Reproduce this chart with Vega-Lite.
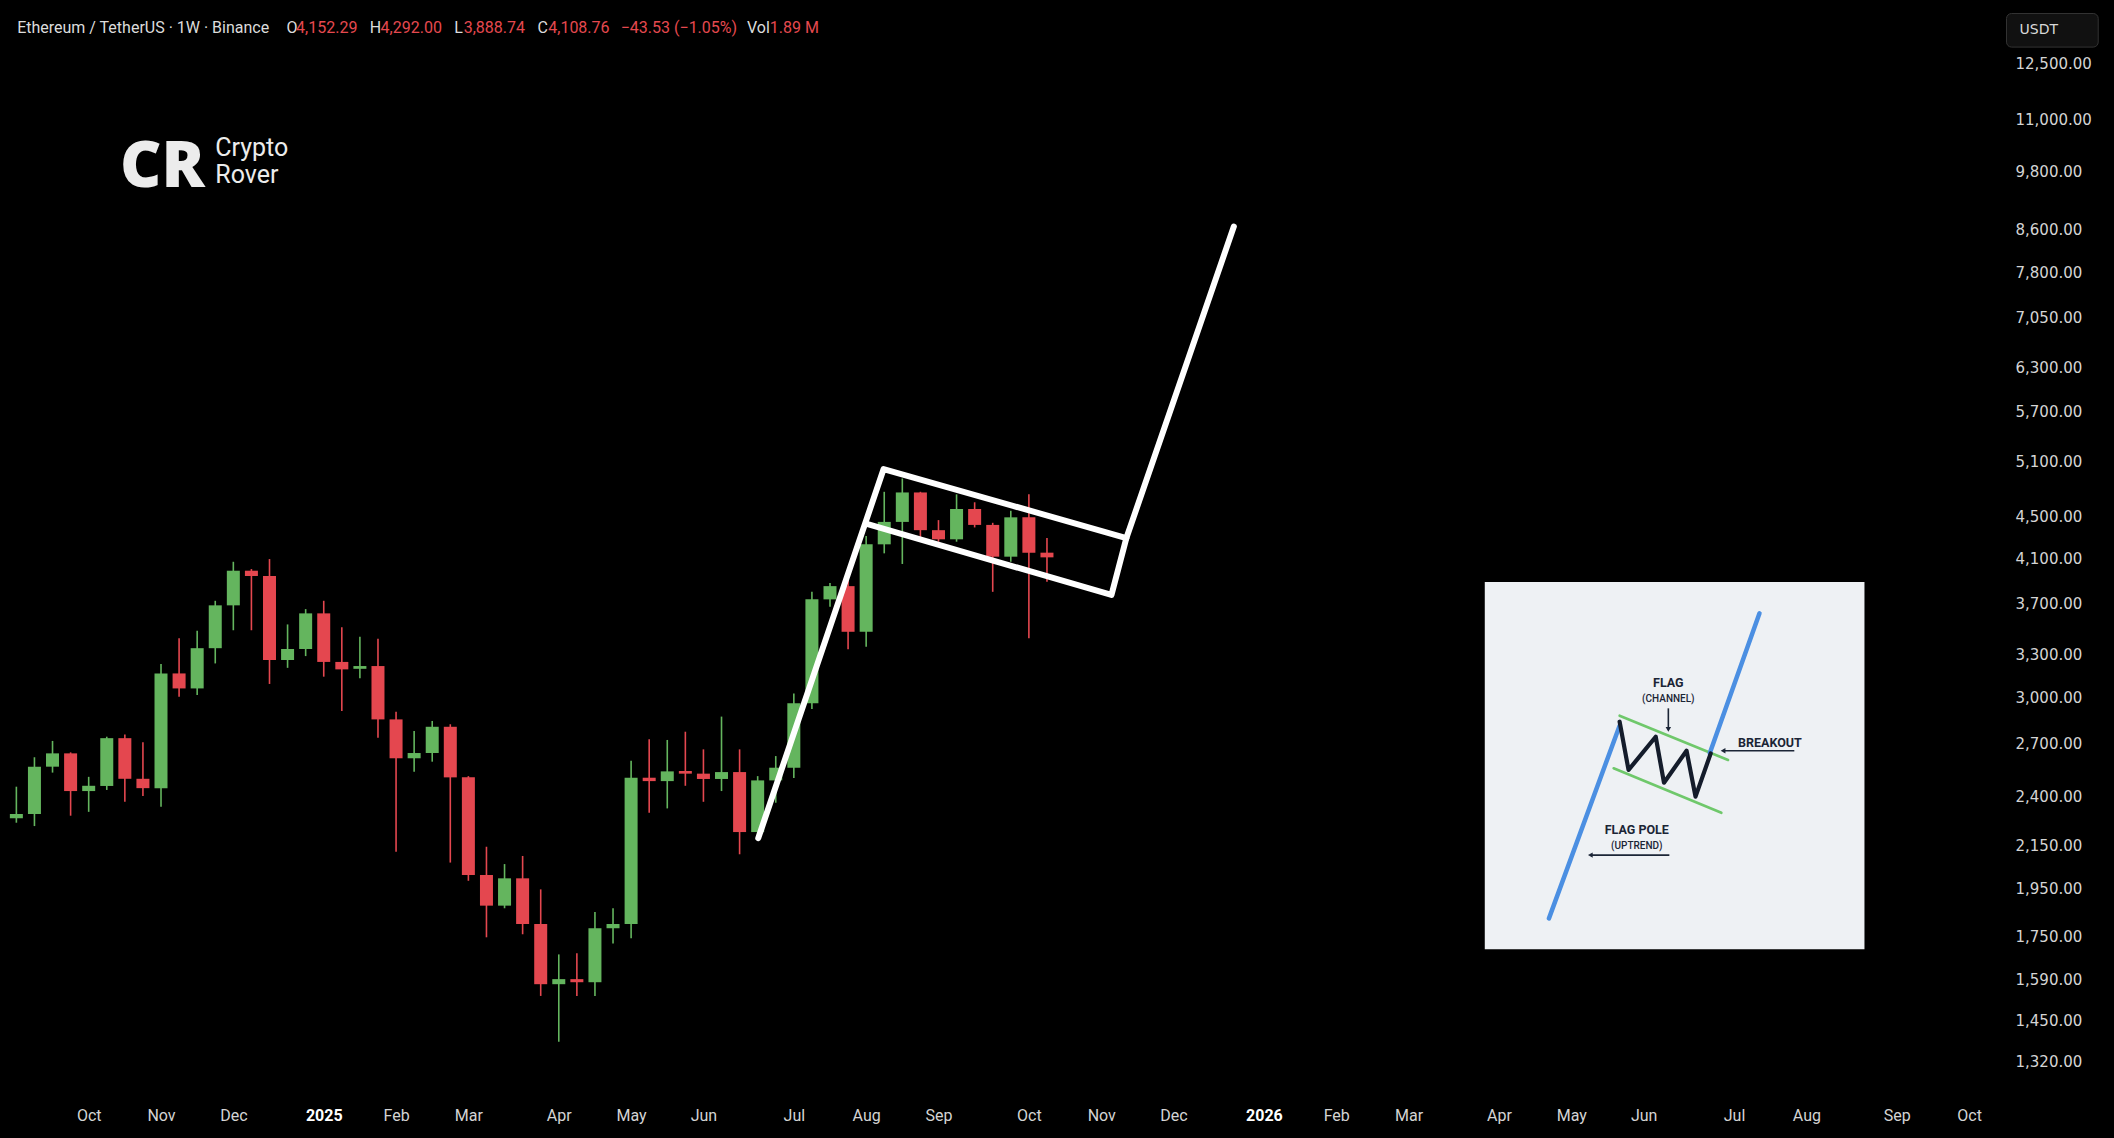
{
  "$schema": "https://vega.github.io/schema/vega-lite/v6.json",
  "width": 1995,
  "height": 1095,
  "autosize": {"type": "none"},
  "padding": {"left": 0, "top": 0, "right": 119, "bottom": 43},
  "background": "#000000",
  "config": {"view": {"stroke": null}, "font": "Roboto", "axis": {"title": null, "grid": false, "ticks": false, "domain": false}},
  "datasets": {
    "candles": [
      {"date": "2024-09-09", "o": 2284, "h": 2452, "l": 2261, "c": 2306},
      {"date": "2024-09-16", "o": 2306, "h": 2620, "l": 2244, "c": 2565},
      {"date": "2024-09-23", "o": 2565, "h": 2718, "l": 2531, "c": 2643},
      {"date": "2024-09-30", "o": 2643, "h": 2649, "l": 2297, "c": 2428},
      {"date": "2024-10-07", "o": 2428, "h": 2507, "l": 2317, "c": 2457},
      {"date": "2024-10-14", "o": 2456, "h": 2744, "l": 2434, "c": 2735},
      {"date": "2024-10-21", "o": 2735, "h": 2757, "l": 2370, "c": 2496},
      {"date": "2024-10-28", "o": 2496, "h": 2710, "l": 2401, "c": 2444},
      {"date": "2024-11-04", "o": 2444, "h": 3231, "l": 2344, "c": 3164},
      {"date": "2024-11-11", "o": 3164, "h": 3424, "l": 3002, "c": 3059},
      {"date": "2024-11-18", "o": 3059, "h": 3483, "l": 3014, "c": 3349},
      {"date": "2024-11-25", "o": 3349, "h": 3726, "l": 3236, "c": 3688},
      {"date": "2024-12-02", "o": 3688, "h": 4068, "l": 3487, "c": 3987},
      {"date": "2024-12-09", "o": 3987, "h": 4002, "l": 3487, "c": 3940},
      {"date": "2024-12-16", "o": 3940, "h": 4093, "l": 3090, "c": 3261},
      {"date": "2024-12-23", "o": 3261, "h": 3533, "l": 3204, "c": 3343},
      {"date": "2024-12-30", "o": 3343, "h": 3657, "l": 3290, "c": 3622},
      {"date": "2025-01-06", "o": 3622, "h": 3726, "l": 3141, "c": 3247},
      {"date": "2025-01-13", "o": 3247, "h": 3510, "l": 2907, "c": 3193},
      {"date": "2025-01-20", "o": 3197, "h": 3437, "l": 3129, "c": 3217},
      {"date": "2025-01-27", "o": 3217, "h": 3420, "l": 2737, "c": 2853},
      {"date": "2025-02-03", "o": 2853, "h": 2903, "l": 2118, "c": 2614},
      {"date": "2025-02-10", "o": 2614, "h": 2780, "l": 2536, "c": 2645},
      {"date": "2025-02-17", "o": 2645, "h": 2843, "l": 2594, "c": 2806},
      {"date": "2025-02-24", "o": 2806, "h": 2822, "l": 2067, "c": 2504},
      {"date": "2025-03-03", "o": 2504, "h": 2511, "l": 1984, "c": 2010},
      {"date": "2025-03-10", "o": 2010, "h": 2142, "l": 1747, "c": 1876},
      {"date": "2025-03-17", "o": 1876, "h": 2060, "l": 1865, "c": 1995},
      {"date": "2025-03-24", "o": 1995, "h": 2098, "l": 1759, "c": 1800},
      {"date": "2025-03-31", "o": 1800, "h": 1946, "l": 1531, "c": 1572},
      {"date": "2025-04-07", "o": 1572, "h": 1681, "l": 1381, "c": 1590},
      {"date": "2025-04-14", "o": 1590, "h": 1685, "l": 1531, "c": 1579},
      {"date": "2025-04-21", "o": 1579, "h": 1849, "l": 1531, "c": 1783},
      {"date": "2025-04-28", "o": 1783, "h": 1865, "l": 1723, "c": 1800},
      {"date": "2025-05-05", "o": 1800, "h": 2600, "l": 1743, "c": 2502},
      {"date": "2025-05-12", "o": 2502, "h": 2729, "l": 2312, "c": 2483},
      {"date": "2025-05-19", "o": 2483, "h": 2724, "l": 2335, "c": 2538},
      {"date": "2025-05-26", "o": 2540, "h": 2775, "l": 2457, "c": 2525},
      {"date": "2025-06-02", "o": 2525, "h": 2667, "l": 2370, "c": 2495},
      {"date": "2025-06-09", "o": 2495, "h": 2871, "l": 2428, "c": 2534},
      {"date": "2025-06-16", "o": 2534, "h": 2667, "l": 2106, "c": 2214},
      {"date": "2025-06-23", "o": 2214, "h": 2511, "l": 2191, "c": 2487},
      {"date": "2025-06-30", "o": 2487, "h": 2627, "l": 2365, "c": 2559},
      {"date": "2025-07-07", "o": 2559, "h": 3025, "l": 2500, "c": 2958},
      {"date": "2025-07-14", "o": 2958, "h": 3802, "l": 2920, "c": 3738},
      {"date": "2025-07-21", "o": 3738, "h": 3878, "l": 3676, "c": 3851},
      {"date": "2025-07-28", "o": 3851, "h": 3900, "l": 3341, "c": 3475},
      {"date": "2025-08-04", "o": 3475, "h": 4311, "l": 3360, "c": 4231},
      {"date": "2025-08-11", "o": 4231, "h": 4762, "l": 4146, "c": 4450},
      {"date": "2025-08-18", "o": 4450, "h": 4907, "l": 4048, "c": 4755},
      {"date": "2025-08-25", "o": 4755, "h": 4762, "l": 4299, "c": 4368},
      {"date": "2025-09-01", "o": 4368, "h": 4468, "l": 4256, "c": 4279},
      {"date": "2025-09-08", "o": 4279, "h": 4735, "l": 4256, "c": 4581},
      {"date": "2025-09-15", "o": 4581, "h": 4651, "l": 4395, "c": 4420},
      {"date": "2025-09-22", "o": 4420, "h": 4441, "l": 3802, "c": 4115},
      {"date": "2025-09-29", "o": 4115, "h": 4564, "l": 4068, "c": 4496},
      {"date": "2025-10-06", "o": 4496, "h": 4735, "l": 3424, "c": 4152.29},
      {"date": "2025-10-13", "o": 4152.29, "h": 4292, "l": 3888.74, "c": 4108.76}
    ],
    "pattern": [
      {"seg": "pole", "i": 0, "date": "2025-06-23T05:17:00Z", "p": 2184},
      {"seg": "pole", "i": 1, "date": "2025-08-10T18:14:00Z", "p": 5012},
      {"seg": "pole", "i": 2, "date": "2025-11-12T18:00:00Z", "p": 4291},
      {"seg": "lower", "i": 0, "date": "2025-08-04T14:24:00Z", "p": 4429},
      {"seg": "lower", "i": 1, "date": "2025-11-06T23:17:00Z", "p": 3775},
      {"seg": "lower", "i": 2, "date": "2025-11-12T18:00:00Z", "p": 4291},
      {"seg": "lower", "i": 3, "date": "2025-12-24T08:24:00Z", "p": 8651}
    ],
    "inset_lines": [
      {"g": "blue", "seg": "pole", "i": 0, "date": "2026-04-25T08:24:00Z", "p": 1823},
      {"g": "blue", "seg": "pole", "i": 1, "date": "2026-05-22T16:48:00Z", "p": 2813},
      {"g": "blue", "seg": "break", "i": 0, "date": "2026-06-26T14:24:00Z", "p": 2643},
      {"g": "blue", "seg": "break", "i": 1, "date": "2026-07-15T20:38:00Z", "p": 3622},
      {"g": "green", "seg": "up", "i": 0, "date": "2026-05-22T16:48:00Z", "p": 2877},
      {"g": "green", "seg": "up", "i": 1, "date": "2026-07-03T16:34:00Z", "p": 2604},
      {"g": "green", "seg": "low", "i": 0, "date": "2026-05-20T09:22:00Z", "p": 2556},
      {"g": "green", "seg": "low", "i": 1, "date": "2026-07-01T02:24:00Z", "p": 2312},
      {"g": "zig", "seg": "zig", "i": 0, "date": "2026-05-22T16:48:00Z", "p": 2838},
      {"g": "zig", "seg": "zig", "i": 1, "date": "2026-05-26T03:50:00Z", "p": 2546},
      {"g": "zig", "seg": "zig", "i": 2, "date": "2026-06-05T16:19:00Z", "p": 2744},
      {"g": "zig", "seg": "zig", "i": 3, "date": "2026-06-08T21:07:00Z", "p": 2474},
      {"g": "zig", "seg": "zig", "i": 4, "date": "2026-06-17T14:53:00Z", "p": 2659},
      {"g": "zig", "seg": "zig", "i": 5, "date": "2026-06-21T02:10:00Z", "p": 2398},
      {"g": "zig", "seg": "zig", "i": 6, "date": "2026-06-26T23:31:00Z", "p": 2643},
      {"g": "arrow", "seg": "a1", "i": 0, "date": "2026-06-10T13:41:00Z", "p": 2925},
      {"g": "arrow", "seg": "a1", "i": 1, "date": "2026-06-10T13:41:00Z", "p": 2797},
      {"g": "arrow", "seg": "a2", "i": 0, "date": "2026-07-29T08:10:00Z", "p": 2659},
      {"g": "arrow", "seg": "a2", "i": 1, "date": "2026-07-01T18:14:00Z", "p": 2659},
      {"g": "arrow", "seg": "a3", "i": 0, "date": "2026-06-10T23:02:00Z", "p": 2102},
      {"g": "arrow", "seg": "a3", "i": 1, "date": "2026-05-11T08:53:00Z", "p": 2102}
    ],
    "heads": [
      {"dir": "down", "date": "2026-06-10T13:41:00Z", "p": 2790},
      {"dir": "left", "date": "2026-07-01T18:14:00Z", "p": 2659},
      {"dir": "left", "date": "2026-05-11T08:53:00Z", "p": 2102}
    ],
    "inset_text": [
      {"t": "FLAG", "kind": "title", "date": "2026-06-10T13:41:00Z", "p": 3094},
      {"t": "(CHANNEL)", "kind": "sub", "date": "2026-06-10T13:41:00Z", "p": 2985},
      {"t": "BREAKOUT", "kind": "title", "date": "2026-07-19T21:36:00Z", "p": 2707},
      {"t": "FLAG POLE", "kind": "title", "date": "2026-05-29T08:38:00Z", "p": 2224},
      {"t": "(UPTREND)", "kind": "sub", "date": "2026-05-29T08:38:00Z", "p": 2145}
    ],
    "header": [
      {"t": "Ethereum / TetherUS · 1W · Binance", "role": "label", "date": "2024-09-09T07:12:00Z", "p": 13523},
      {"t": "O", "role": "label", "date": "2024-12-22T14:40:00Z", "p": 13523},
      {"t": "4,152.29", "role": "value", "date": "2024-12-26T07:26:00Z", "p": 13523},
      {"t": "H", "role": "label", "date": "2025-01-23T20:38:00Z", "p": 13523},
      {"t": "4,292.00", "role": "value", "date": "2025-01-28T00:29:00Z", "p": 13523},
      {"t": "L", "role": "label", "date": "2025-02-25T13:26:00Z", "p": 13523},
      {"t": "3,888.74", "role": "value", "date": "2025-03-01T04:19:00Z", "p": 13523},
      {"t": "C", "role": "label", "date": "2025-03-29T18:14:00Z", "p": 13523},
      {"t": "4,108.76", "role": "value", "date": "2025-04-02T22:05:00Z", "p": 13523},
      {"t": "−43.53 (−1.05%)", "role": "value", "date": "2025-04-30T23:17:00Z", "p": 13523},
      {"t": "Vol", "role": "label", "date": "2025-06-18T20:24:00Z", "p": 13523},
      {"t": "1.89 M", "role": "value", "date": "2025-06-27T16:05:00Z", "p": 13523}
    ],
    "logo": [
      {"t": "Crypto", "date": "2024-11-25T00:00:00Z", "p": 10323},
      {"t": "Rover", "date": "2024-11-25T00:00:00Z", "p": 9714}
    ],
    "icon": [{"t": "CR", "date": "2024-11-04T14:00:00Z", "p": 9456}],
    "inset_box": [{"d1": "2026-03-31T12:00:00Z", "d2": "2026-08-25T12:00:00Z", "p1": 1701, "p2": 3887}],
    "unit_box": [{"t": "USDT", "d1": "2026-10-19T12:00:00Z", "d2": "2026-11-24T00:00:00Z", "dm": "2026-11-01T00:00:00Z", "p1": 12957, "p2": 13975, "pm": 13464}]
  },
  "layer": [
    {
      "data": {"name": "candles"},
      "mark": {"type": "rule", "strokeWidth": 1.6},
      "encoding": {
        "x": {"field": "date", "type": "temporal",
          "scale": {"type": "utc", "domain": [{"year": 2024, "month": 9, "date": 4, "hours": 14, "minutes": 24, "utc": true}, {"year": 2026, "month": 10, "date": 13, "hours": 2, "minutes": 24, "utc": true}]},
          "axis": {
            "title": null, "domain": false, "ticks": false, "grid": false,
            "values": [
              {"year": 2024, "month": 10, "date": 7, "utc": true},
              {"year": 2024, "month": 11, "date": 4, "utc": true},
              {"year": 2024, "month": 12, "date": 2, "utc": true},
              {"year": 2025, "month": 1, "date": 6, "utc": true},
              {"year": 2025, "month": 2, "date": 3, "utc": true},
              {"year": 2025, "month": 3, "date": 3, "utc": true},
              {"year": 2025, "month": 4, "date": 7, "utc": true},
              {"year": 2025, "month": 5, "date": 5, "utc": true},
              {"year": 2025, "month": 6, "date": 2, "utc": true},
              {"year": 2025, "month": 7, "date": 7, "utc": true},
              {"year": 2025, "month": 8, "date": 4, "utc": true},
              {"year": 2025, "month": 9, "date": 1, "utc": true},
              {"year": 2025, "month": 10, "date": 6, "utc": true},
              {"year": 2025, "month": 11, "date": 3, "utc": true},
              {"year": 2025, "month": 12, "date": 1, "utc": true},
              {"year": 2026, "month": 1, "date": 5, "utc": true},
              {"year": 2026, "month": 2, "date": 2, "utc": true},
              {"year": 2026, "month": 3, "date": 2, "utc": true},
              {"year": 2026, "month": 4, "date": 6, "utc": true},
              {"year": 2026, "month": 5, "date": 4, "utc": true},
              {"year": 2026, "month": 6, "date": 1, "utc": true},
              {"year": 2026, "month": 7, "date": 6, "utc": true},
              {"year": 2026, "month": 8, "date": 3, "utc": true},
              {"year": 2026, "month": 9, "date": 7, "utc": true},
              {"year": 2026, "month": 10, "date": 5, "utc": true}
            ],
            "labelExpr": "utcFormat(datum.value, '%m') == '01' ? utcFormat(datum.value, '%Y') : utcFormat(datum.value, '%b')",
            "labelFont": "Roboto", "labelFontSize": 16, "labelPadding": 12,
            "labelColor": {"condition": {"test": "utcFormat(datum.value, '%m') == '01'", "value": "#ffffff"}, "value": "#d4d4d4"},
            "labelFontWeight": {"condition": {"test": "utcFormat(datum.value, '%m') == '01'", "value": "bold"}, "value": "normal"},
            "labelOverlap": false, "labelFlush": false, "labelBound": false
          }},
        "y": {"field": "l", "type": "quantitative",
          "scale": {"type": "log", "domain": [1225, 14406], "nice": false, "zero": false},
          "axis": {
            "orient": "right", "title": null, "domain": false, "ticks": false, "grid": false,
            "values": [12500, 11000, 9800, 8600, 7800, 7050, 6300, 5700, 5100, 4500, 4100, 3700, 3300, 3000, 2700, 2400, 2150, 1950, 1750, 1590, 1450, 1320],
            "format": ",.2f", "labelAlign": "left", "labelPadding": 20,
            "labelFont": "DejaVu Sans", "labelFontSize": 15, "labelColor": "#d4d4d4",
            "labelOverlap": false, "labelBound": false, "labelFlush": false
          }},
        "y2": {"field": "h"},
        "color": {"condition": {"test": "datum.c >= datum.o", "value": "#64b55e"}, "value": "#e4474f"}
      }
    },
    {
      "data": {"name": "candles"},
      "mark": {"type": "bar", "width": 13},
      "encoding": {
        "x": {"field": "date", "type": "temporal",
          "scale": {"type": "utc", "domain": [{"year": 2024, "month": 9, "date": 4, "hours": 14, "minutes": 24, "utc": true}, {"year": 2026, "month": 10, "date": 13, "hours": 2, "minutes": 24, "utc": true}]}},
        "y": {"field": "o", "type": "quantitative",
          "scale": {"type": "log", "domain": [1225, 14406], "nice": false, "zero": false}},
        "y2": {"field": "c"},
        "color": {"condition": {"test": "datum.c >= datum.o", "value": "#64b55e"}, "value": "#e4474f"}
      }
    },
    {
      "data": {"name": "pattern"},
      "mark": {"type": "line", "color": "#ffffff", "strokeWidth": 6, "strokeCap": "round", "strokeJoin": "round"},
      "encoding": {
        "x": {"field": "date", "type": "temporal",
          "scale": {"type": "utc", "domain": [{"year": 2024, "month": 9, "date": 4, "hours": 14, "minutes": 24, "utc": true}, {"year": 2026, "month": 10, "date": 13, "hours": 2, "minutes": 24, "utc": true}]}},
        "y": {"field": "p", "type": "quantitative",
          "scale": {"type": "log", "domain": [1225, 14406], "nice": false, "zero": false}},
        "detail": {"field": "seg"},
        "order": {"field": "i"}
      }
    },
    {
      "data": {"name": "inset_box"},
      "mark": {"type": "rect", "color": "#eef1f4"},
      "encoding": {
        "x": {"field": "d1", "type": "temporal",
          "scale": {"type": "utc", "domain": [{"year": 2024, "month": 9, "date": 4, "hours": 14, "minutes": 24, "utc": true}, {"year": 2026, "month": 10, "date": 13, "hours": 2, "minutes": 24, "utc": true}]}},
        "x2": {"field": "d2"},
        "y": {"field": "p1", "type": "quantitative",
          "scale": {"type": "log", "domain": [1225, 14406], "nice": false, "zero": false}},
        "y2": {"field": "p2"}
      }
    },
    {
      "data": {"name": "inset_lines"},
      "transform": [{"filter": "datum.g == 'green'"}],
      "mark": {"type": "line", "color": "#6fc86b", "strokeWidth": 2.6, "strokeCap": "round"},
      "encoding": {
        "x": {"field": "date", "type": "temporal",
          "scale": {"type": "utc", "domain": [{"year": 2024, "month": 9, "date": 4, "hours": 14, "minutes": 24, "utc": true}, {"year": 2026, "month": 10, "date": 13, "hours": 2, "minutes": 24, "utc": true}]}},
        "y": {"field": "p", "type": "quantitative",
          "scale": {"type": "log", "domain": [1225, 14406], "nice": false, "zero": false}},
        "detail": {"field": "seg"},
        "order": {"field": "i"}
      }
    },
    {
      "data": {"name": "inset_lines"},
      "transform": [{"filter": "datum.g == 'blue'"}],
      "mark": {"type": "line", "color": "#4b8fe2", "strokeWidth": 4.5, "strokeCap": "round"},
      "encoding": {
        "x": {"field": "date", "type": "temporal",
          "scale": {"type": "utc", "domain": [{"year": 2024, "month": 9, "date": 4, "hours": 14, "minutes": 24, "utc": true}, {"year": 2026, "month": 10, "date": 13, "hours": 2, "minutes": 24, "utc": true}]}},
        "y": {"field": "p", "type": "quantitative",
          "scale": {"type": "log", "domain": [1225, 14406], "nice": false, "zero": false}},
        "detail": {"field": "seg"},
        "order": {"field": "i"}
      }
    },
    {
      "data": {"name": "inset_lines"},
      "transform": [{"filter": "datum.g == 'zig'"}],
      "mark": {"type": "line", "color": "#141c2b", "strokeWidth": 4.2, "strokeCap": "round", "strokeJoin": "round"},
      "encoding": {
        "x": {"field": "date", "type": "temporal",
          "scale": {"type": "utc", "domain": [{"year": 2024, "month": 9, "date": 4, "hours": 14, "minutes": 24, "utc": true}, {"year": 2026, "month": 10, "date": 13, "hours": 2, "minutes": 24, "utc": true}]}},
        "y": {"field": "p", "type": "quantitative",
          "scale": {"type": "log", "domain": [1225, 14406], "nice": false, "zero": false}},
        "detail": {"field": "seg"},
        "order": {"field": "i"}
      }
    },
    {
      "data": {"name": "inset_lines"},
      "transform": [{"filter": "datum.g == 'arrow'"}],
      "mark": {"type": "line", "color": "#1b2536", "strokeWidth": 1.6},
      "encoding": {
        "x": {"field": "date", "type": "temporal",
          "scale": {"type": "utc", "domain": [{"year": 2024, "month": 9, "date": 4, "hours": 14, "minutes": 24, "utc": true}, {"year": 2026, "month": 10, "date": 13, "hours": 2, "minutes": 24, "utc": true}]}},
        "y": {"field": "p", "type": "quantitative",
          "scale": {"type": "log", "domain": [1225, 14406], "nice": false, "zero": false}},
        "detail": {"field": "seg"},
        "order": {"field": "i"}
      }
    },
    {
      "data": {"name": "heads"},
      "mark": {"type": "point", "filled": true, "color": "#1b2536", "size": 30, "opacity": 1},
      "encoding": {
        "x": {"field": "date", "type": "temporal",
          "scale": {"type": "utc", "domain": [{"year": 2024, "month": 9, "date": 4, "hours": 14, "minutes": 24, "utc": true}, {"year": 2026, "month": 10, "date": 13, "hours": 2, "minutes": 24, "utc": true}]}},
        "y": {"field": "p", "type": "quantitative",
          "scale": {"type": "log", "domain": [1225, 14406], "nice": false, "zero": false}},
        "shape": {"field": "dir", "type": "nominal", "legend": null,
          "scale": {"domain": ["down", "left"], "range": ["triangle-down", "triangle-left"]}}
      }
    },
    {
      "data": {"name": "inset_text"},
      "transform": [{"filter": "datum.kind == 'title'"}],
      "mark": {"type": "text", "font": "Roboto", "fontWeight": "bold", "fontSize": 12.5, "color": "#1b2536", "align": "center", "baseline": "middle"},
      "encoding": {
        "x": {"field": "date", "type": "temporal",
          "scale": {"type": "utc", "domain": [{"year": 2024, "month": 9, "date": 4, "hours": 14, "minutes": 24, "utc": true}, {"year": 2026, "month": 10, "date": 13, "hours": 2, "minutes": 24, "utc": true}]}},
        "y": {"field": "p", "type": "quantitative",
          "scale": {"type": "log", "domain": [1225, 14406], "nice": false, "zero": false}},
        "text": {"field": "t"}
      }
    },
    {
      "data": {"name": "inset_text"},
      "transform": [{"filter": "datum.kind == 'sub'"}],
      "mark": {"type": "text", "font": "Roboto", "fontWeight": 500, "fontSize": 10, "color": "#1b2536", "align": "center", "baseline": "middle"},
      "encoding": {
        "x": {"field": "date", "type": "temporal",
          "scale": {"type": "utc", "domain": [{"year": 2024, "month": 9, "date": 4, "hours": 14, "minutes": 24, "utc": true}, {"year": 2026, "month": 10, "date": 13, "hours": 2, "minutes": 24, "utc": true}]}},
        "y": {"field": "p", "type": "quantitative",
          "scale": {"type": "log", "domain": [1225, 14406], "nice": false, "zero": false}},
        "text": {"field": "t"}
      }
    },
    {
      "data": {"name": "header"},
      "mark": {"type": "text", "font": "Roboto", "fontSize": 16, "align": "left", "baseline": "middle"},
      "encoding": {
        "x": {"field": "date", "type": "temporal",
          "scale": {"type": "utc", "domain": [{"year": 2024, "month": 9, "date": 4, "hours": 14, "minutes": 24, "utc": true}, {"year": 2026, "month": 10, "date": 13, "hours": 2, "minutes": 24, "utc": true}]}},
        "y": {"field": "p", "type": "quantitative",
          "scale": {"type": "log", "domain": [1225, 14406], "nice": false, "zero": false}},
        "text": {"field": "t"},
        "color": {"field": "role", "type": "nominal", "legend": null,
          "scale": {"domain": ["label", "value"], "range": ["#dcdcdc", "#e5494f"]}}
      }
    },
    {
      "data": {"name": "logo"},
      "mark": {"type": "text", "font": "Roboto", "fontSize": 25, "fontWeight": 400, "color": "#ececec", "align": "left", "baseline": "middle"},
      "encoding": {
        "x": {"field": "date", "type": "temporal",
          "scale": {"type": "utc", "domain": [{"year": 2024, "month": 9, "date": 4, "hours": 14, "minutes": 24, "utc": true}, {"year": 2026, "month": 10, "date": 13, "hours": 2, "minutes": 24, "utc": true}]}},
        "y": {"field": "p", "type": "quantitative",
          "scale": {"type": "log", "domain": [1225, 14406], "nice": false, "zero": false}},
        "text": {"field": "t"}
      }
    },
    {
      "data": {"name": "icon"},
      "mark": {"type": "text", "font": "Noto Sans", "fontSize": 64, "fontWeight": 900, "color": "#ececec", "align": "center", "baseline": "alphabetic"},
      "encoding": {
        "x": {"field": "date", "type": "temporal",
          "scale": {"type": "utc", "domain": [{"year": 2024, "month": 9, "date": 4, "hours": 14, "minutes": 24, "utc": true}, {"year": 2026, "month": 10, "date": 13, "hours": 2, "minutes": 24, "utc": true}]}},
        "y": {"field": "p", "type": "quantitative",
          "scale": {"type": "log", "domain": [1225, 14406], "nice": false, "zero": false}},
        "text": {"field": "t"}
      }
    },
    {
      "data": {"name": "unit_box"},
      "mark": {"type": "rect", "fill": "#111111", "stroke": "#333333", "strokeWidth": 1, "cornerRadius": 5},
      "encoding": {
        "x": {"field": "d1", "type": "temporal",
          "scale": {"type": "utc", "domain": [{"year": 2024, "month": 9, "date": 4, "hours": 14, "minutes": 24, "utc": true}, {"year": 2026, "month": 10, "date": 13, "hours": 2, "minutes": 24, "utc": true}]}},
        "x2": {"field": "d2"},
        "y": {"field": "p1", "type": "quantitative",
          "scale": {"type": "log", "domain": [1225, 14406], "nice": false, "zero": false}},
        "y2": {"field": "p2"}
      }
    },
    {
      "data": {"name": "unit_box"},
      "mark": {"type": "text", "font": "DejaVu Sans", "fontSize": 14, "color": "#d8d8d8", "align": "center", "baseline": "middle"},
      "encoding": {
        "x": {"field": "dm", "type": "temporal",
          "scale": {"type": "utc", "domain": [{"year": 2024, "month": 9, "date": 4, "hours": 14, "minutes": 24, "utc": true}, {"year": 2026, "month": 10, "date": 13, "hours": 2, "minutes": 24, "utc": true}]}},
        "y": {"field": "pm", "type": "quantitative",
          "scale": {"type": "log", "domain": [1225, 14406], "nice": false, "zero": false}},
        "text": {"field": "t"}
      }
    }
  ]
}
